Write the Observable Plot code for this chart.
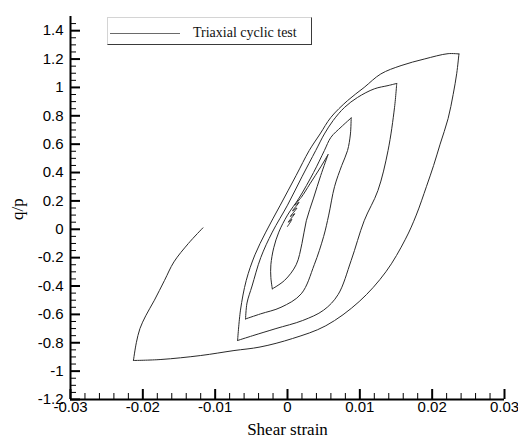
<!DOCTYPE html>
<html>
<head>
<meta charset="utf-8">
<script src="https://cdn.jsdelivr.net/npm/d3@7"></script>
<script src="https://cdn.jsdelivr.net/npm/@observablehq/plot@0.6"></script>
<style>
  html, body { margin: 0; padding: 0; background: #fff; }
  #chart { position: relative; width: 518px; height: 445px; }
  .legend {
    position: absolute; left: 107px; top: 17px; width: 205px; height: 28px;
    box-sizing: border-box; background: #fff;
    border-left: 1px solid #d4d4d4; border-top: 1px solid #d4d4d4;
    border-right: 1px solid #3a3a3a; border-bottom: 1px solid #3a3a3a;
    font-family: "Liberation Serif", "Times New Roman", serif; font-size: 14px; color: #111;
  }
  .legend .swatch { position: absolute; left: 2px; top: 15px; width: 70px; height: 0; border-top: 1px solid #6a6a6a; }
  .legend .label { position: absolute; left: 85px; top: 7px; line-height: 16px; white-space: nowrap; }
</style>
</head>
<body>
<div id="chart"></div>
<script>
// Stress ratio q/p against shear strain for the cyclic triaxial test,
// one [strain, q/p] list per loading / unloading branch, in test order.
const initialBranch = [[-0.0117,0.01],[-0.0137,-0.10],[-0.0157,-0.23],[-0.0170,-0.36],[-0.0184,-0.50],[-0.0196,-0.61],[-0.0204,-0.70],[-0.0209,-0.80],[-0.0213,-0.925]];
const loading1 = [[-0.0213,-0.925],[-0.0175,-0.918],[-0.0120,-0.89],[-0.0074,-0.855],[-0.0038,-0.83],[0.0007,-0.77],[0.0053,-0.68],[0.0099,-0.51],[0.0136,-0.30],[0.0163,-0.07],[0.0178,0.10],[0.0192,0.30],[0.0202,0.45],[0.0211,0.60],[0.0222,0.78],[0.0229,0.95],[0.0234,1.10],[0.0237,1.236]];
const unloading1 = [[0.0237,1.236],[0.0222,1.238],[0.0189,1.20],[0.0157,1.154],[0.0129,1.095],[0.0106,1.0],[0.0083,0.907],[0.0060,0.789],[0.0045,0.672],[0.0030,0.555],[0.0012,0.38],[-0.0010,0.17],[-0.0030,-0.02],[-0.0045,-0.18],[-0.0057,-0.36],[-0.0065,-0.57],[-0.0069,-0.784]];
const loading2 = [[-0.0069,-0.784],[-0.0048,-0.75],[-0.0016,-0.70],[0.0021,-0.643],[0.0050,-0.57],[0.0070,-0.46],[0.0088,-0.22],[0.0106,0.06],[0.0125,0.273],[0.0139,0.555],[0.0148,0.86],[0.0151,1.028]];
const unloading2 = [[0.0151,1.028],[0.0139,1.013],[0.0120,0.99],[0.0097,0.93],[0.0079,0.86],[0.0063,0.766],[0.0051,0.672],[0.0039,0.555],[0.0020,0.37],[0.0000,0.17],[-0.0021,-0.02],[-0.0037,-0.20],[-0.0049,-0.40],[-0.0056,-0.52],[-0.0058,-0.632]];
const loading3 = [[-0.0058,-0.632],[-0.0037,-0.596],[-0.0009,-0.55],[0.0019,-0.455],[0.0037,-0.25],[0.0050,-0.05],[0.0057,0.10],[0.0065,0.30],[0.0075,0.45],[0.0083,0.555],[0.0087,0.672],[0.0088,0.785]];
const unloading3 = [[0.0088,0.785],[0.0074,0.72],[0.0060,0.648],[0.0051,0.555],[0.0036,0.40],[0.0016,0.22],[0.0000,0.10],[-0.0012,-0.02],[-0.0019,-0.13],[-0.0023,-0.25],[-0.0023,-0.34],[-0.0021,-0.42]];
const loading4 = [[-0.0021,-0.42],[-0.0004,-0.36],[0.0012,-0.25],[0.0020,-0.10],[0.0026,0.06],[0.0036,0.22],[0.0046,0.38],[0.0056,0.526]];
const unloading4 = [[0.0056,0.526],[0.0046,0.44],[0.0031,0.32],[0.0019,0.225],[0.0010,0.17],[0.0016,0.19],[0.0007,0.13],[0.0013,0.15],[0.0004,0.09],[0.0010,0.11],[0.0001,0.05],[0.0006,0.07],[0.0000,0.02]];

const branchNames = ["initial","loading1","unloading1","loading2","unloading2","loading3","unloading3","loading4","unloading4"];
const branchPoints = [initialBranch, loading1, unloading1, loading2, unloading2, loading3, unloading3, loading4, unloading4];

// Axis ticks
const xMajor = [-0.03, -0.02, -0.01, 0, 0.01, 0.02, 0.03];
const yMajor = [-1.2, -1, -0.8, -0.6, -0.4, -0.2, 0, 0.2, 0.4, 0.6, 0.8, 1, 1.2, 1.4];
const xDomain = [-0.03, 0.03];
const yDomain = [-1.2, 1.5];

const xMinor = d3.range(-30, 31, 2).map(k => k / 1000).filter(v => !xMajor.some(m => Math.abs(m - v) < 1e-9));
const yMinor = d3.range(-120, 150, 5).map(k => k / 100).filter(v => !yMajor.some(m => Math.abs(m - v) < 1e-9));

const rows = branchNames.flatMap((name, i) =>
  branchPoints[i].map(([strain, qp]) => ({branch: name, strain, qp})));

const width = 518, height = 445;
const margin = {top: 16, right: 14, bottom: 46, left: 70};
const innerW = width - margin.left - margin.right;
const innerH = height - margin.top - margin.bottom;
const majorLen = 10, minorLen = 6;
const fmt = d => String(Math.round(d * 1000) / 1000);
const serif = "'Liberation Serif', 'Times New Roman', serif";

const chart = Plot.plot({
  width, height,
  marginTop: margin.top, marginRight: margin.right,
  marginBottom: margin.bottom, marginLeft: margin.left,
  style: {fontFamily: "'Liberation Sans', Arial, sans-serif", fontSize: "15px", color: "#000", background: "#fff", overflow: "visible"},
  x: {domain: xDomain, axis: null},
  y: {domain: yDomain, axis: null},
  marks: [
    // inward-pointing ticks
    Plot.tickY(yMinor, {y: d => d, insetRight: innerW - minorLen, stroke: "#000", strokeWidth: 1}),
    Plot.tickY(yMajor, {y: d => d, insetRight: innerW - majorLen, stroke: "#000", strokeWidth: 2}),
    Plot.tickX(xMinor, {x: d => d, insetTop: innerH - minorLen, stroke: "#000", strokeWidth: 1}),
    Plot.tickX(xMajor, {x: d => d, insetTop: innerH - majorLen, stroke: "#000", strokeWidth: 2}),
    // axis lines
    Plot.ruleX([xDomain[0]], {stroke: "#000", strokeWidth: 2}),
    Plot.ruleY([yDomain[0]], {stroke: "#000", strokeWidth: 2}),
    // tick labels
    Plot.axisY(yMajor, {tickSize: 0, tickPadding: 7, tickFormat: fmt, label: null, fontSize: 15}),
    Plot.axisX(xMajor, {tickSize: 0, tickPadding: 2, tickFormat: fmt, label: null, fontSize: 15}),
    // axis titles
    Plot.text(["Shear strain"], {text: d => d, frameAnchor: "bottom", dy: 35, fontFamily: serif, fontSize: 17}),
    Plot.text(["q/p"], {text: d => d, frameAnchor: "left", dx: -53, dy: 12, rotate: -90, fontFamily: serif, fontSize: 17}),
    // hysteresis loops
    Plot.line(rows, {x: "strain", y: "qp", z: "branch", curve: "catmull-rom", stroke: "#2a2a2a", strokeWidth: 1})
  ]
});

const host = document.getElementById("chart");
host.appendChild(chart);

const legend = document.createElement("div");
legend.className = "legend";
legend.innerHTML = '<span class="swatch"></span><span class="label">Triaxial cyclic test</span>';
host.appendChild(legend);
</script>
</body>
</html>
